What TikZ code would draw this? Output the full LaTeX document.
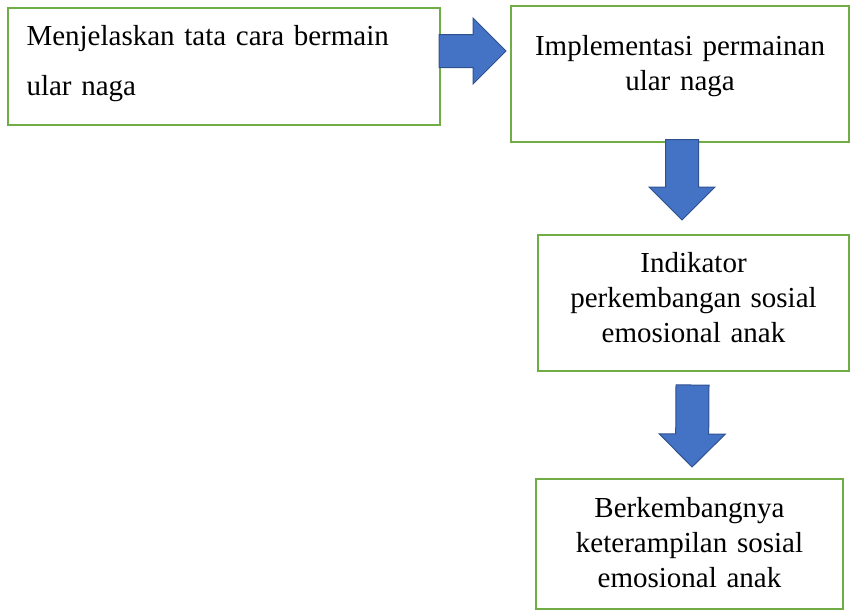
\documentclass[tikz,border=0pt]{standalone}
\usepackage{fontspec}
\setmainfont{Liberation Serif}
\usetikzlibrary{calc}
\definecolor{boxgreen}{RGB}{112,173,71}
\definecolor{arrowblue}{RGB}{68,114,196}
\definecolor{arrowline}{RGB}{47,82,143}
\tikzset{
  stepbox/.style={draw=boxgreen, line width=2pt, anchor=north west, inner xsep=0pt, inner ysep=0pt, outer sep=0pt, align=center, font=\fontsize{29}{35}\selectfont},
  arrowfill/.style={fill=arrowblue, draw=arrowline, line width=1pt, line join=miter}
}
% block arrow from #1 to the tip #2
\newcommand{\blockarrow}[2]{%
  \coordinate (hb) at ($(#2)!33pt!(#1)$);
  \draw[arrowfill] ($(#1)!16.5pt!90:(#2)$) -- ($(hb)!16.5pt!-90:(#1)$) -- ($(hb)!33pt!-90:(#1)$) -- (#2)
    -- ($(hb)!33pt!90:(#1)$) -- ($(hb)!16.5pt!90:(#1)$) -- ($(#1)!16.5pt!-90:(#2)$) -- cycle;}

\begin{document}
\begin{tikzpicture}[x=1pt,y=-1pt]
\useasboundingbox (0,0) rectangle (851,611);
% Boxes
\node[stepbox, align=left, text width=394.5pt, inner xsep=19pt, font=\fontsize{29}{50}\selectfont, text height=37pt, text depth=80pt] (tatacara) at (7.5,8) {Menjelaskan tata cara bermain\\ular naga};
\node[stepbox, text width=338pt, text height=49pt, text depth=86.5pt] (implementasi) at (511,6) {Implementasi permainan\\ular naga};
\node[stepbox, text width=311pt, text height=37pt, text depth=99pt] (indikator) at (538,235) {Indikator\\perkembangan sosial\\emosional anak};
\node[stepbox, text width=307pt, text height=38pt, text depth=92pt] (berkembang) at (536,479) {Berkembangnya\\keterampilan sosial\\emosional anak};
% Arrow ends
\coordinate (r0) at ($(tatacara.north east)+(-1,43)$);
\coordinate (r1) at ($(implementasi.north west)+(-5,45)$);
\coordinate (d0) at ($(implementasi.south)+(2,-2)$);
\coordinate (d1) at ($(indikator.north)+(-11.5,-15)$);
\coordinate (e0) at ($(indikator.south)+(-1,14)$);
\coordinate (e1) at ($(berkembang.north)+(2.5,-12)$);
% Block arrows
\blockarrow{r0}{r1}
\blockarrow{d0}{d1}
\blockarrow{e0}{e1}
\end{tikzpicture}
\end{document}
